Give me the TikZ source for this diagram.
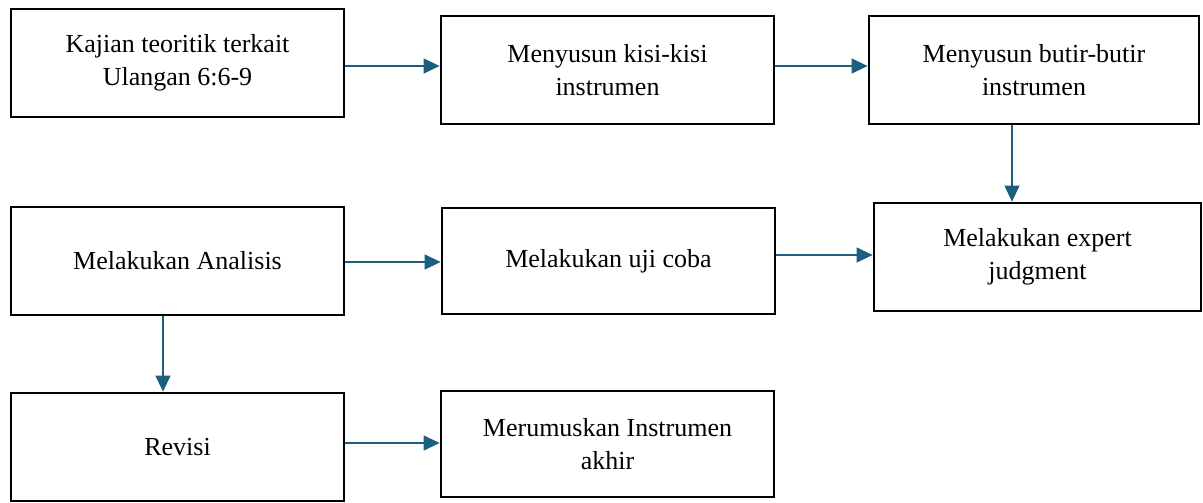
\documentclass[tikz,border=0pt]{standalone}
\usepackage{fontspec}
\setmainfont{Liberation Serif}
\usetikzlibrary{arrows.meta}
\definecolor{arrowblue}{RGB}{28,94,128}
\tikzset{
  box/.style={draw=black, line width=2.8pt, rectangle, align=center,
    font=\fontsize{26}{33}\selectfont, inner sep=0pt},
  conn/.style={draw=arrowblue, line width=1.3pt,
    -{Triangle[length=16pt,width=15pt]}, shorten >=0pt},
}
\begin{document}
\begin{tikzpicture}[x=1pt,y=-1pt]
\useasboundingbox (0,0) rectangle (1203,503);
\node[box, minimum width=333pt, minimum height=108pt] (b1) at (177.5,63) {Kajian teoritik terkait\\Ulangan 6:6-9};
\node[box, minimum width=333pt, minimum height=108pt] (b2) at (607.5,70) {Menyusun kisi-kisi\\instrumen};
\node[box, minimum width=330pt, minimum height=108pt] (b3) at (1034,70) {Menyusun butir-butir\\instrumen};
\node[box, minimum width=327pt, minimum height=108pt] (b4) at (1037.5,257) {Melakukan expert\\judgment};
\node[box, minimum width=333pt, minimum height=106pt] (b5) at (608.5,261) {Melakukan uji coba};
\node[box, minimum width=333pt, minimum height=108pt] (b6) at (177.5,261) {Melakukan Analisis};
\node[box, minimum width=333pt, minimum height=108pt] (b7) at (177.5,447) {Revisi};
\node[box, minimum width=333pt, minimum height=106pt] (b8) at (607.5,444) {Merumuskan Instrumen\\akhir};
\draw[conn] (b1.east |- 0,66) -- (b2.west |- 0,66);
\draw[conn] (b2.east |- 0,66) -- (b3.west |- 0,66);
\draw[conn] (1012,0 |- b3.south) -- (1012,0 |- b4.north);
\draw[conn] (b6.east |- 0,262) -- (b5.west |- 0,262);
\draw[conn] (b5.east |- 0,255) -- (b4.west |- 0,255);
\draw[conn] (163,0 |- b6.south) -- (163,0 |- b7.north);
\draw[conn] (b7.east |- 0,443) -- (b8.west |- 0,443);
\end{tikzpicture}
\end{document}
